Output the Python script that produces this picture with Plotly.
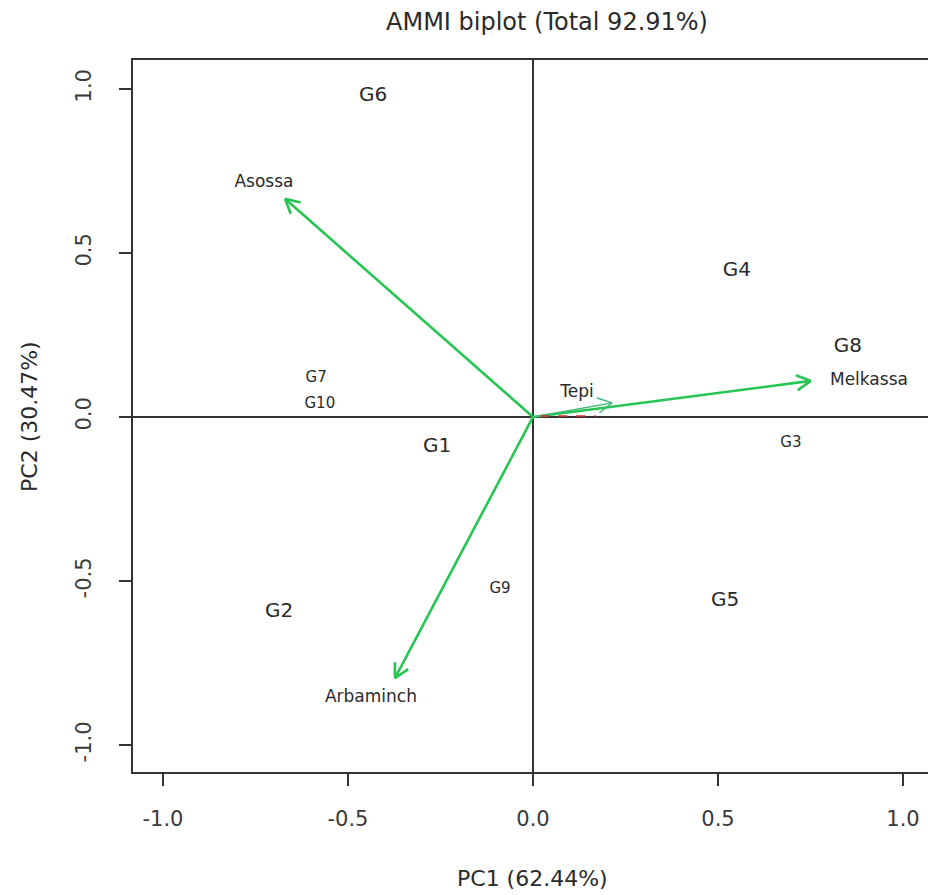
import math
import plotly.graph_objects as go

# ---- data ----
genotypes = ["G1", "G2", "G3", "G4", "G5", "G6", "G7", "G8", "G9", "G10"]
geno_pc1 = [-0.259, -0.686, 0.697, 0.551, 0.519, -0.432, -0.586, 0.851, -0.089, -0.576]
geno_pc2 = [-0.091, -0.595, -0.079, 0.445, -0.561, 0.979, 0.119, 0.213, -0.524, 0.040]
geno_size = [20, 20, 15, 20, 20, 20, 15, 20, 15, 15]

environments = ["Asossa", "Arbaminch", "Melkassa", "Tepi"]
env_pc1 = [-0.670, -0.373, 0.751, 0.214]
env_pc2 = [0.665, -0.796, 0.110, 0.043]
env_label_pc1 = [-0.727, -0.438, 0.908, 0.119]
env_label_pc2 = [0.713, -0.857, 0.110, 0.073]
env_width = [2.6, 2.6, 2.6, 1.4]

# small red segment partly hidden near the origin
red_pc1 = [0.02, 0.17]
red_pc2 = [0.003, 0.003]

x_ticks = [-1.0, -0.5, 0.0, 0.5, 1.0]
y_ticks = [-1.0, -0.5, 0.0, 0.5, 1.0]
x_range = [-1.081, 1.0676]
y_range = [-1.082, 1.088]

title_text = "AMMI biplot (Total 92.91%)"
x_title = "PC1 (62.44%)"
y_title = "PC2 (30.47%)"

W, H = 928, 895
ML, MR, MT, MB = 133, 0, 60, 123
FONT = "DejaVu Sans"
GREEN = "#27c553"
TEXT = "#2a2a2a"

sx = (W - ML - MR) / (x_range[1] - x_range[0])
sy = (H - MT - MB) / (y_range[1] - y_range[0])

fig = go.Figure()

# environment vectors with open arrow heads
head_len = 16.0
head_ang = math.radians(28)
for name, x, y, lw in zip(environments, env_pc1, env_pc2, env_width):
    px, py = x * sx, y * sy
    n = math.hypot(px, py)
    ux, uy = px / n, py / n
    hx, hy = [], []
    for s in (1, -1):
        c, si = math.cos(s * head_ang), math.sin(s * head_ang)
        rx, ry = ux * c - uy * si, ux * si + uy * c
        hx += [x - head_len * rx / sx, x, None]
        hy += [y - head_len * ry / sy, y, None]
    col = GREEN if lw > 2 else "#3cb878"
    fig.add_trace(go.Scatter(x=[0, x], y=[0, y], mode="lines",
                             line=dict(color=col, width=lw), hoverinfo="skip",
                             showlegend=False))
    fig.add_trace(go.Scatter(x=hx, y=hy, mode="lines",
                             line=dict(color=col, width=lw), hoverinfo="skip",
                             showlegend=False))

fig.add_trace(go.Scatter(x=red_pc1, y=red_pc2, mode="lines",
                         line=dict(color="#d03030", width=1.5, dash="dash"),
                         hoverinfo="skip", showlegend=False))

# environment labels
fig.add_trace(go.Scatter(x=env_label_pc1, y=env_label_pc2, mode="text",
                         text=environments,
                         textfont=dict(family=FONT, size=17, color=TEXT),
                         showlegend=False, hoverinfo="skip"))

# genotype labels
fig.add_trace(go.Scatter(x=geno_pc1, y=geno_pc2, mode="text",
                         text=genotypes,
                         textfont=dict(family=FONT, size=geno_size, color=TEXT),
                         showlegend=False, hoverinfo="skip"))

axis_common = dict(
    showgrid=False,
    zeroline=True, zerolinecolor="#333333", zerolinewidth=1.6,
    showline=True, linecolor="#333333", linewidth=1.6,
    ticks="outside", ticklen=12, tickwidth=1.6, tickcolor="#333333",
    tickfont=dict(family=FONT, size=21, color="#3a3a3a"),
)

fig.update_layout(
    width=W, height=H,
    margin=dict(l=ML, r=MR, t=MT, b=MB, autoexpand=False),
    paper_bgcolor="white", plot_bgcolor="white",
    xaxis=dict(range=x_range, tickvals=x_ticks,
               ticktext=[f"{v:.1f}" for v in x_ticks], mirror=True,
               ticklabelstandoff=15, **axis_common),
    yaxis=dict(range=y_range, tickvals=y_ticks,
               ticktext=[f"{v:.1f}" for v in y_ticks], tickangle=-90,
               mirror=False, ticklabelstandoff=20, **axis_common),
    annotations=[
        dict(text=title_text, xref="x", x=0, xshift=14, yref="paper", y=1,
             yanchor="middle", yshift=38, showarrow=False,
             font=dict(family=FONT, size=24, color=TEXT)),
        dict(text=x_title, xref="x", x=0, yref="paper", y=0,
             yanchor="middle", yshift=-106, showarrow=False,
             font=dict(family=FONT, size=22, color=TEXT)),
        dict(text=y_title, xref="paper", x=0, xanchor="center", xshift=-103,
             yref="y", y=0, yanchor="middle",
             textangle=-90, showarrow=False,
             font=dict(family=FONT, size=22, color=TEXT)),
    ],
)

fig.write_html(
    "out.html",
    config={"displayModeBar": False},
    post_script="document.body.style.margin='0px';"
                "document.body.style.overflow='hidden';",
)
